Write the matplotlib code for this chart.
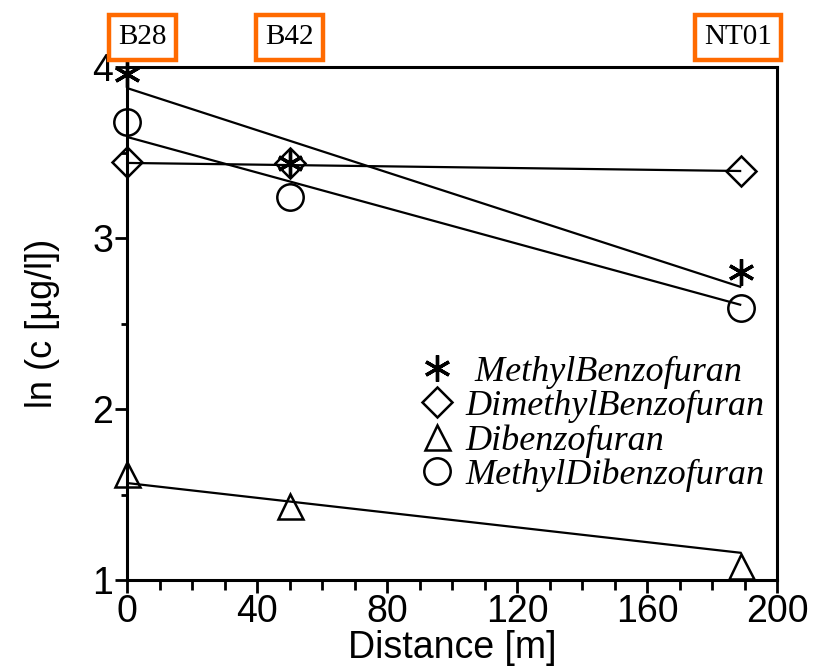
import numpy as np
import matplotlib
matplotlib.use("Agg")
import matplotlib.pyplot as plt
from matplotlib.ticker import MultipleLocator
import matplotlib.transforms as mtransforms

# ---- data ----
distance = [0, 50, 189]
site_labels = ["B28", "B42", "NT01"]
series_names = ["MethylBenzofuran", "DimethylBenzofuran", "Dibenzofuran", "MethylDibenzofuran"]
methyl_benzofuran = [3.96, 3.44, 2.80]
dimethyl_benzofuran = [3.445, 3.44, 3.39]
dibenzofuran = [1.62, 1.43, 1.08]
methyl_dibenzofuran = [3.68, 3.24, 2.59]
# regression lines (value at distance 0, slope per m)
fit_intercept = [3.877, 3.439, 1.567, 3.591]
fit_slope = [-0.00616, -0.00025, -0.00216, -0.0052]

series_values = [methyl_benzofuran, dimethyl_benzofuran, dibenzofuran, methyl_dibenzofuran]
markers = [(6, 2, 0), "D", "^", "o"]
msizes = [19, 15, 18, 19]
medge = [2.4, 1.8, 1.8, 1.8]

plt.rcParams["font.family"] = ["Liberation Sans", "DejaVu Sans"]

fig = plt.figure(figsize=(8.21, 6.72), dpi=100)
ax = fig.add_axes([127 / 821, 1 - 580 / 672, 650 / 821, 513 / 672])

x = np.array(distance, dtype=float)
xfit = np.array([x.min(), x.max()])
handles = []
for vals, mk, ms, mw, b, m, name in zip(series_values, markers, msizes, medge, fit_intercept, fit_slope, series_names):
    ax.plot(xfit, b + m * xfit, color="black", lw=1.6, solid_capstyle="butt", zorder=2)
    h, = ax.plot(x, vals, linestyle="none", marker=mk, ms=ms, mfc="none", mec="black",
                 mew=mw, clip_on=False, zorder=3, label=name)
    handles.append(h)

ax.set_xlim(0, 200)
ax.set_ylim(1, 4)
ax.xaxis.set_major_locator(MultipleLocator(40))
ax.xaxis.set_minor_locator(MultipleLocator(10))
ax.yaxis.set_major_locator(MultipleLocator(1))
ax.yaxis.set_minor_locator(MultipleLocator(0.5))
ax.tick_params(axis="both", which="major", direction="out", length=9, width=2, labelsize=27, pad=1)
ax.tick_params(axis="both", which="minor", direction="out", length=7, width=2)
ax.tick_params(axis="y", which="minor", length=4)
for sp in ax.spines.values():
    sp.set_linewidth(2.2)

ax.set_xlabel("Distance [m]", fontsize=27, labelpad=0)
ax.set_ylabel("ln (c [µg/l])", fontsize=26, labelpad=23)

# legend (markers only), text clipped at the right spine
leg_labels = [" " + series_names[0]] + series_names[1:]
leg = ax.legend(handles, leg_labels, loc="upper left", bbox_to_anchor=(0.449, 0.438),
                frameon=False, borderpad=0, borderaxespad=0, handlelength=1.0,
                handletextpad=0.3, labelspacing=0.03,
                prop={"family": ["Liberation Serif", "DejaVu Serif"], "style": "italic", "size": 26})
for t in leg.get_texts():
    t.set_clip_box(ax.bbox)
    t.set_clip_on(True)

# site labels in orange boxes above the axes
trans = mtransforms.blended_transform_factory(ax.transData, ax.transAxes)
label_x = [4.7, 50, 188]
for lx, s in zip(label_x, site_labels):
    ax.text(lx, 1.058, s, transform=trans, ha="center", va="center", fontsize=21,
            family=["Liberation Serif", "DejaVu Serif"], clip_on=False,
            bbox=dict(boxstyle="square,pad=0.32", fc="white", ec="#FF6A00", lw=3.2))

fig.savefig("out.png", dpi=100)
